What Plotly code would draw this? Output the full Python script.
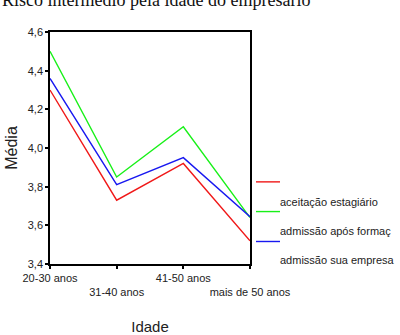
import plotly.graph_objects as go

categories = ["20-30 anos", "31-40 anos", "41-50 anos", "mais de 50 anos"]
tick_labels = ["20-30 anos", "<br>31-40 anos", "41-50 anos", "<br>mais de 50 anos"]
red_values = [4.30, 3.73, 3.92, 3.52]
green_values = [4.50, 3.85, 4.11, 3.64]
blue_values = [4.36, 3.81, 3.95, 3.645]
legend_labels = ["aceitação estagiário", "admissão após formaç", "admissão sua empresa"]

series = [
    ("", red_values, "#f01818"),
    (legend_labels[0], green_values, "#18f018"),
    (legend_labels[1], blue_values, "#1818f0"),
]

fig = go.Figure()
for name, vals, col in series:
    fig.add_trace(go.Scatter(x=categories, y=vals, mode="lines", name=name,
                             line=dict(color=col, width=1.4), showlegend=False))

# manual legend (SPSS style, labels offset from lines)
line_y = [0.354, 0.226, 0.097]
for (name, vals, col), yy in zip(series, line_y):
    fig.add_shape(type="line", xref="paper", yref="paper", x0=1.03, x1=1.15,
                  y0=yy, y1=yy, line=dict(color=col, width=1.4))
text_y = [0.269, 0.143, 0.018]
for lab, yy in zip(legend_labels, text_y):
    fig.add_annotation(text=lab, xref="paper", yref="paper", x=1.1385, y=yy,
                       xanchor="left", yanchor="middle", showarrow=False,
                       font=dict(family="Liberation Sans, Arial", size=11, color="#222"))

fig.add_annotation(text="Risco intermédio pela idade do empresário", xref="paper", yref="paper",
                   x=-0.25, y=1, xanchor="left", yanchor="bottom", yshift=20, showarrow=False,
                   font=dict(family="Liberation Serif, Times New Roman", size=18, color="#111"))

fig.update_layout(
    width=400, height=335,
    margin=dict(l=50, r=150, t=32, b=71, autoexpand=False),
    paper_bgcolor="white", plot_bgcolor="white",
    separators=",.",
    font=dict(family="Liberation Sans, Arial", size=11, color="#222"),
    xaxis=dict(range=[0, 3], tickvals=categories, ticktext=tick_labels, tickangle=0,
               automargin=False,
               showline=True, linecolor="black", linewidth=1.5, mirror=True,
               ticks="outside", ticklen=3, tickwidth=2, tickcolor="black",
               showgrid=False, zeroline=False,
               title=dict(text="Idade", font=dict(size=15), standoff=26)),
    yaxis=dict(range=[3.4, 4.6], dtick=0.2, tickformat=".1f", automargin=False,
               showline=True, linecolor="black", linewidth=1.5, mirror=True,
               ticks="outside", ticklen=3, tickwidth=2, tickcolor="black",
               showgrid=False, zeroline=False,
               title=dict(text="Média", font=dict(size=16), standoff=6)),
)

fig.write_html("out.html")
